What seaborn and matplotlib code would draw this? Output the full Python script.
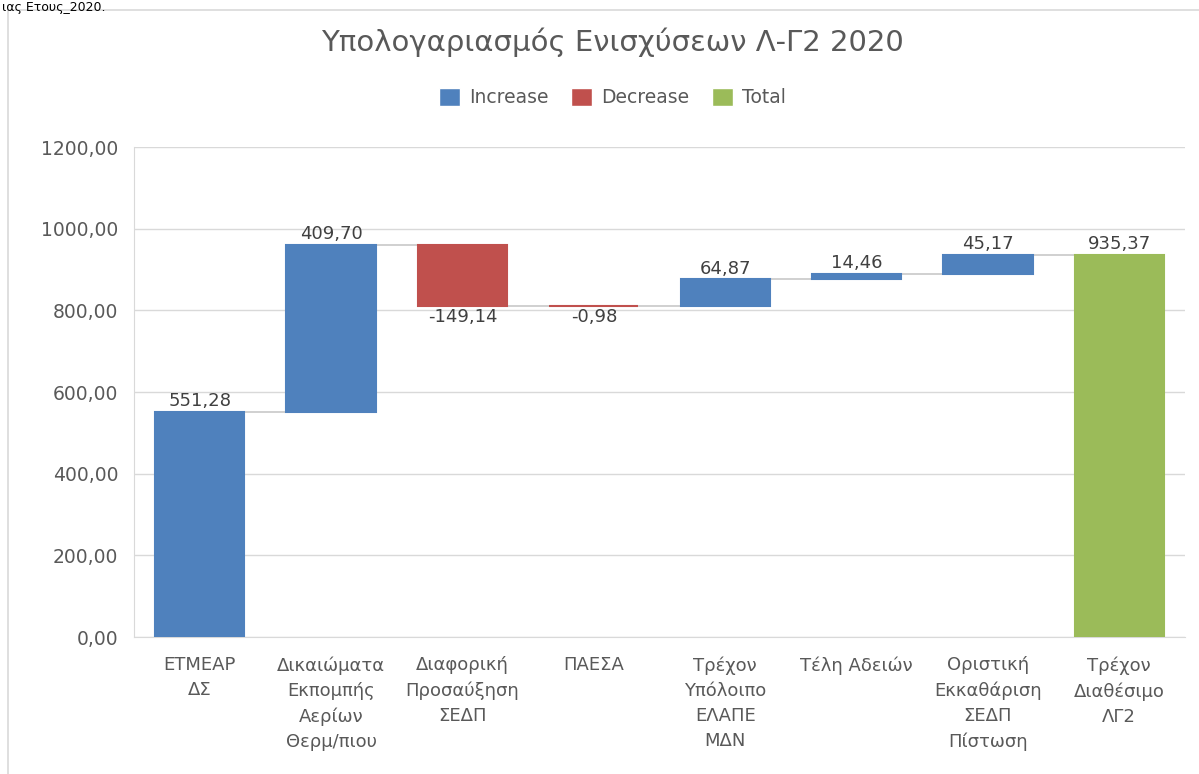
import numpy as np
import pandas as pd
import seaborn as sns
import matplotlib.pyplot as plt
from matplotlib.patches import Patch, Rectangle

categories = [
    "ΕΤΜΕΑΡ\nΔΣ",
    "Δικαιώματα\nΕκπομπής\nΑερίων\nΘερμ/πιου",
    "Διαφορική\nΠροσαύξηση\nΣΕΔΠ",
    "ΠΑΕΣΑ",
    "Τρέχον\nΥπόλοιπο\nΕΛΑΠΕ\nΜΔΝ",
    "Τέλη Αδειών",
    "Οριστική\nΕκκαθάριση\nΣΕΔΠ\nΠίστωση",
    "Τρέχον\nΔιαθέσιμο\nΛΓ2",
]
values = [551.28, 409.70, -149.14, -0.98, 64.87, 14.46, 45.17, 935.37]
kinds = ["Increase", "Increase", "Decrease", "Decrease",
         "Increase", "Increase", "Increase", "Total"]
yticks = [0, 200, 400, 600, 800, 1000, 1200]

colors = {"Increase": "#4F81BD", "Decrease": "#C0504D", "Total": "#9BBB59"}
text_col = "#595959"

# waterfall geometry from the values
bottoms, tops, levels = [], [], []
running = 0.0
for v, k in zip(values, kinds):
    if k == "Total":
        b, t = 0.0, v
        running = v
    else:
        b, t = running, running + v
        running = t
    bottoms.append(min(b, t))
    tops.append(max(b, t))
    levels.append(running)

df = pd.DataFrame({
    "cat": categories,
    "height": np.array(tops) - np.array(bottoms),
    "kind": kinds,
})

sns.set_style("white")
plt.rcParams["font.family"] = ["DejaVu Sans"]

fig = plt.figure(figsize=(11.99, 7.74), dpi=100)
ax = fig.add_axes([0.1118, 0.177, 0.8765, 0.633])

w = 0.68
sns.barplot(data=df, x="cat", y="height", hue="cat",
            palette=[colors[k] for k in kinds], legend=False,
            width=w, saturation=1, ax=ax, zorder=3)

for p, b, k in zip(ax.patches, bottoms, kinds):
    p.set_y(b)
    # thin bars still need to show up, like in the spreadsheet
    p.set_edgecolor(colors[k])
    p.set_linewidth(1.5)

# connectors
for i in range(len(values) - 1):
    ax.plot([i + w / 2, i + 1 - w / 2], [levels[i], levels[i]],
            color="#C8C8C8", lw=1.2, zorder=2)

# data labels
for i, v in enumerate(values):
    lab = f"{v:.2f}".replace(".", ",")
    if v >= 0:
        ax.text(i, tops[i] + 4, lab, ha="center", va="bottom",
                fontsize=13, color="#404040")
    else:
        ax.text(i, bottoms[i] - 5, lab, ha="center", va="top",
                fontsize=13, color="#404040")

ax.set_ylim(0, 1200)
ax.set_xlim(-0.5, len(categories) - 0.5)
ax.set_yticks(yticks)
ax.set_yticklabels([f"{t:.2f}".replace(".", ",") for t in yticks])
ax.yaxis.grid(True, color="#D9D9D9", lw=1, zorder=0)
ax.set_axisbelow(True)
ax.tick_params(axis="y", length=0, pad=11.5, labelsize=13.5, labelcolor=text_col)
ax.tick_params(axis="x", length=0, pad=14, labelcolor=text_col)
for lbl in ax.get_xticklabels():
    lbl.set_fontsize(13)
    lbl.set_linespacing(1.5)
    lbl.set_multialignment("center")
ax.set_xlabel("")
ax.set_ylabel("")
for s in ["top", "right"]:
    ax.spines[s].set_visible(False)
ax.spines["left"].set_color("#D9D9D9")
ax.spines["bottom"].set_color("#D9D9D9")

fig.text(0.511, 0.945, "Υπολογαριασμός Ενισχύσεων Λ-Γ2 2020",
         ha="center", va="center", fontsize=21, color=text_col)

handles = [Patch(facecolor=colors[k], label=k) for k in ["Increase", "Decrease", "Total"]]
fig.legend(handles=handles, loc="center", bbox_to_anchor=(0.511, 0.874),
           ncol=3, frameon=False, fontsize=13.5, labelcolor=text_col,
           handlelength=1.1, handleheight=1.1, handletextpad=0.5,
           columnspacing=1.2)

# outer chart frame and the document text above it
fig.patches.append(Rectangle((8 / 1199, -0.05), 1.2, 1.0 - 10 / 774 + 0.05,
                             transform=fig.transFigure, fill=False,
                             edgecolor="#D9D9D9", lw=1.2))
fig.text(0.002, 0.999, "ιας Ετους_2020.", ha="left", va="top",
         fontsize=9, color="black")

fig.savefig("out.png", dpi=100)
